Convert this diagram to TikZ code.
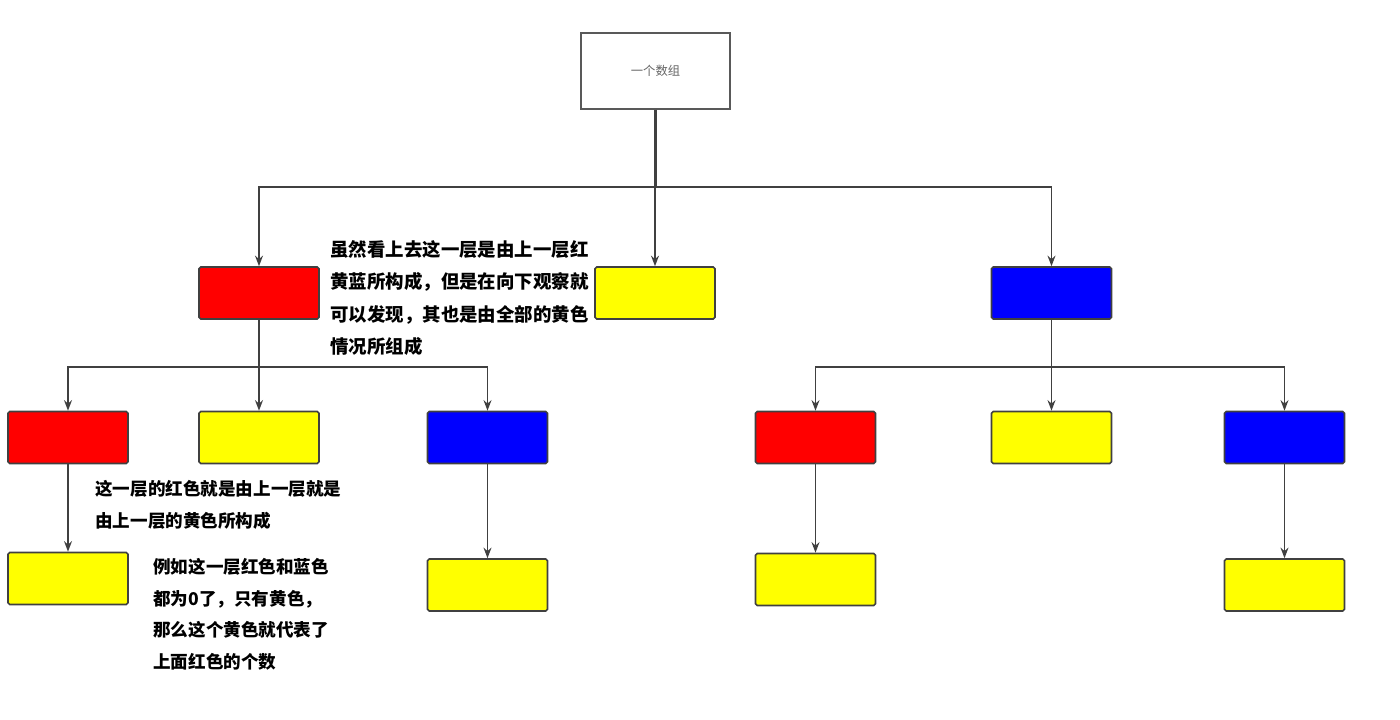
\documentclass[tikz,border=0pt]{standalone}
\usepackage{fontspec}
\newfontfamily\cjk{Noto Sans CJK SC}
\usetikzlibrary{arrows.meta}

\definecolor{linegray}{HTML}{404040}
\definecolor{boxred}{HTML}{FF0000}
\definecolor{boxyellow}{HTML}{FFFF00}
\definecolor{boxblue}{HTML}{0000FF}

\tikzset{
  colbox/.style={draw=linegray, line width=0.9pt, rounded corners=1pt,
    minimum width=2.4cm, minimum height=1.04cm, inner sep=0pt},
  redbox/.style={colbox, fill=boxred},
  yellowbox/.style={colbox, fill=boxyellow},
  bluebox/.style={colbox, fill=boxblue},
  rootbox/.style={draw=gray!70!black, line width=0.8pt, fill=white,
    minimum width=2.98cm, minimum height=1.52cm, inner sep=0pt,
    font=\cjk\fontsize{7pt}{8pt}\selectfont, text=gray!80!black},
  wire/.style={draw=linegray, line width=1pt},
  note/.style={align=left, anchor=north west, inner sep=0pt,
    font=\cjk\bfseries\fontsize{10pt}{18pt}\selectfont}
}

\begin{document}
\begin{tikzpicture}[x=0.02cm, y=-0.02cm, >={Stealth[length=6pt,width=4.5pt]}]
    \useasboundingbox (0,0) rectangle (1400,720);
    % root
    \node[rootbox] (root) at (655.5,71) {一个数组};
    % first layer
    \node[redbox]    (r1) at (259,293) {};
    \node[yellowbox] (y1) at (655,293) {};
    \node[bluebox]   (b1) at (1051.5,293) {};
    % second layer
    \node[redbox]    (r2a) at (68,437.5) {};
    \node[yellowbox] (y2a) at (259,437.5) {};
    \node[bluebox]   (b2a) at (487.5,437.5) {};
    \node[redbox]    (r2b) at (815.5,437.5) {};
    \node[yellowbox] (y2b) at (1051.5,437.5) {};
    \node[bluebox]   (b2b) at (1284.5,437.5) {};
    % third layer
    \node[yellowbox] (y3a) at (68,578.5) {};
    \node[yellowbox] (y3b) at (487.5,585) {};
    \node[yellowbox] (y3c) at (815.5,579.5) {};
    \node[yellowbox] (y3d) at (1284.5,585) {};
    % bus lines
    \coordinate (bus0) at (0,187);
    \coordinate (bus1) at (0,367);
    % root to first layer
    \draw[wire, line width=1.5pt] (root.south) -- (root.south |- bus0);
    \foreach \n in {r1,y1,b1}
        \draw[wire, ->] (root.south |- bus0) -| (\n.north);
    % first layer to second layer
    \draw[wire] (r1.south) -- (r1.south |- bus1);
    \foreach \n in {r2a,y2a,b2a}
        \draw[wire, ->] (r1.south |- bus1) -| (\n.north);
    \draw[wire] (b1.south) -- (b1.south |- bus1);
    \foreach \n in {r2b,y2b,b2b}
        \draw[wire, ->] (b1.south |- bus1) -| (\n.north);
    % second layer to third layer
    \draw[wire, ->] (r2a) -- (y3a);
    \draw[wire, ->] (b2a) -- (y3b);
    \draw[wire, ->] (r2b) -- (y3c);
    \draw[wire, ->] (b2b) -- (y3d);
    % notes
    \node[note, font=\cjk\bfseries\fontsize{10.5pt}{18.5pt}\selectfont] (n1) at (330,240)
        {虽然看上去这一层是由上一层红\\黄蓝所构成，但是在向下观察就\\可以发现，其也是由全部的黄色\\情况所组成};
    \node[note] (n2) at (95,480)
        {这一层的红色就是由上一层就是\\由上一层的黄色所构成};
    \node[note] (n3) at (153,558)
        {例如这一层红色和蓝色\\都为0了，只有黄色，\\那么这个黄色就代表了\\上面红色的个数};
\end{tikzpicture}
\end{document}
